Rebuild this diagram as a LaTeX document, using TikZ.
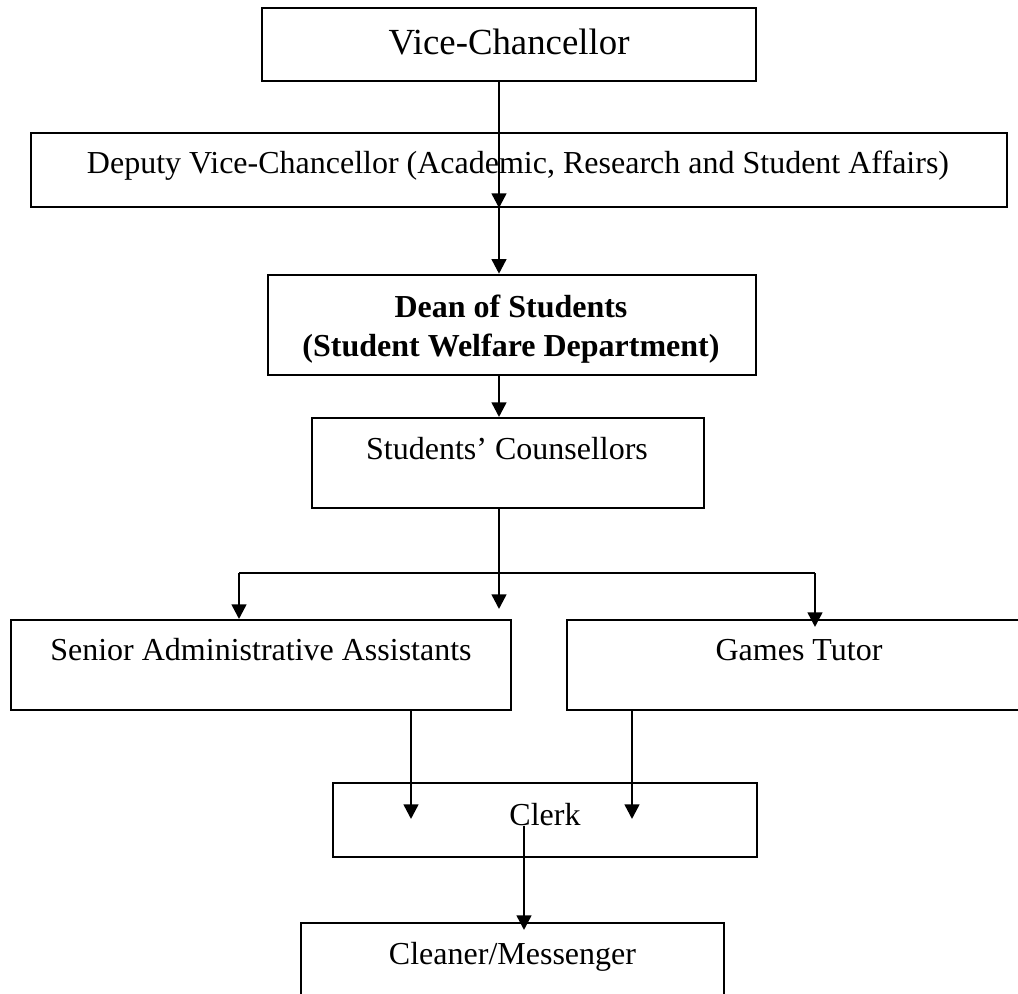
\documentclass[tikz,border=0pt]{standalone}
\usepackage{fontspec}
\setmainfont{Liberation Serif}
\usetikzlibrary{arrows.meta}
\begin{document}
\begin{tikzpicture}[x=0.75pt,y=-0.75pt,
  box/.style={draw=black, line width=1.5pt, rectangle, inner sep=0pt, fill=none},
  deanbox/.style={box, line width=1.9pt},
  txt/.style={inner sep=0pt, anchor=base, font=\fontsize{24}{28}\selectfont},
  bigtxt/.style={txt, font=\fontsize{27.6}{32}\selectfont},
  boldtxt/.style={txt, font=\fontsize{24}{28}\selectfont\bfseries},
  conn/.style={draw=black, line width=1.9pt},
  arr/.style={conn, -{Triangle[length=11pt,width=11pt]}}
]
\path[use as bounding box, clip] (0,0) rectangle (1018,994);
\fill[white] (0,0) rectangle (1018,994);

% boxes
\node[box, minimum width=370.5pt, minimum height=54.75pt] (vc) at (509,44.5) {};
\node[box, minimum width=732pt, minimum height=55.5pt] (dvc) at (519,170) {};
\node[deanbox, minimum width=366pt, minimum height=75pt] (dean) at (512,325) {};
\node[box, minimum width=294pt, minimum height=67.5pt] (couns) at (508,463) {};
\node[box, minimum width=375pt, minimum height=67.5pt] (saa) at (261,665) {};
\node[box, minimum width=348pt, minimum height=67.5pt] (games) at (799,665) {};
\node[box, minimum width=318pt, minimum height=55.5pt] (clerk) at (545,820) {};
\node[box, minimum width=317.25pt, minimum height=57.75pt] (clean) at (512.5,961.5) {};

% texts
\node[bigtxt] (vcT) at (509,55) {Vice-Chancellor};
\node[txt] (dvcT) at (518,174) {Deputy Vice-Chancellor (Academic, Research and Student Affairs)};
\node[boldtxt] (deanT1) at (511,318) {Dean of Students};
\node[boldtxt] (deanT2) at (511,357) {(Student Welfare Department)};
\node[txt] (counsT) at (507,460) {Students’ Counsellors};
\node[txt] (saaT) at (261,661) {Senior Administrative Assistants};
\node[txt] (gamesT) at (799,661) {Games Tutor};
\node[txt] (clerkT) at (545,825) {Clerk};
\node[txt] (cleanT) at (512.5,964) {Cleaner/Messenger};

% helper coordinates
\coordinate (a1) at (499,0);
\coordinate (mid) at (499,609);
\coordinate (hl) at (239,573);
\coordinate (hr) at (815,573);
\coordinate (gt) at (815,627);
\coordinate (c1) at (411,819);
\coordinate (c2) at (632,819);
\coordinate (k1) at (524,828);
\coordinate (k2) at (524,930);

% connectors
\draw[arr] (vc.south -| a1) -- (dvc.south -| a1);
\draw[arr] (dvc.south -| a1) -- (dean.north -| a1);
\draw[arr] (dean.south -| a1) -- (couns.north -| a1);
\draw[arr] (couns.south -| a1) -- (mid);
\draw[conn] (hl) -- (hr);
\draw[arr] (hl) -- (saa.north -| hl);
\draw[arr] (hr) -- (gt);
\draw[arr] (saa.south -| c1) -- (c1);
\draw[arr] (games.south -| c2) -- (c2);
\draw[arr] (clerkT.south -| k1) -- (k2);
\end{tikzpicture}
\end{document}
